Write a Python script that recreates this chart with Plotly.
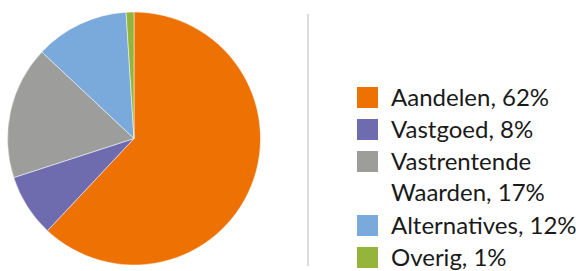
import plotly.graph_objects as go

W, H = 576, 271

categories = ["Aandelen", "Vastgoed", "Vastrentende Waarden", "Alternatives", "Overig"]
values = [62, 8, 17, 12, 1]
legend_labels = ["Aandelen, 62%", "Vastgoed, 8%", "Vastrentende<br>Waarden, 17%",
                 "Alternatives, 12%", "Overig, 1%"]
colors = ["#EE7203", "#6E6BAF", "#9D9D9C", "#7AA9DB", "#95B53A"]
legend_lines = [1, 1, 2, 1, 1]

fig = go.Figure()
fig.add_trace(go.Pie(
    labels=categories, values=values, sort=False, direction="clockwise",
    rotation=0, textinfo="none", hoverinfo="label+percent",
    marker=dict(colors=colors, line=dict(color="white", width=0.5)),
    domain=dict(x=[7 / W, 261 / W], y=[(H - 265) / H, (H - 12) / H]),
    showlegend=False,
))

shapes = [dict(type="line", xref="paper", yref="paper",
               x0=308 / W, x1=308 / W, y0=1 - 14 / H, y1=1 - 266 / H,
               line=dict(color="#BBBBBB", width=1))]
annotations = []
row_y = 97.5
pitch = 32
for lab, col, nl in zip(legend_labels, colors, legend_lines):
    shapes.append(dict(type="rect", xref="paper", yref="paper",
                       x0=357 / W, x1=378 / W,
                       y0=1 - (row_y - 10.5) / H, y1=1 - (row_y + 10.5) / H,
                       fillcolor=col, line=dict(width=0)))
    annotations.append(dict(xref="paper", yref="paper", x=389 / W,
                            y=1 - (row_y - 17.5) / H, xanchor="left", yanchor="top",
                            text=lab, showarrow=False, align="left",
                            font=dict(family="Lato", size=24, color="#1a1a1a")))
    row_y += pitch * nl

fig.update_layout(width=W, height=H, margin=dict(l=0, r=0, t=0, b=0),
                  paper_bgcolor="white", plot_bgcolor="white",
                  shapes=shapes, annotations=annotations)
fig.write_html("out.html", config={"displayModeBar": False},
               post_script="document.body.style.margin='0';document.body.style.overflow='hidden';")
